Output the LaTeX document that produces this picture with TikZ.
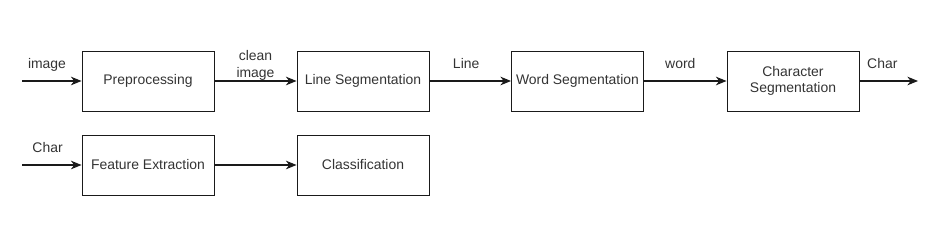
\documentclass[tikz,border=0pt]{standalone}
\usepackage{fontspec}
\setmainfont{Liberation Sans}
\usepackage{tikz}
\usetikzlibrary{arrows.meta}
\definecolor{ink}{HTML}{1A1A1A}
\definecolor{labelgray}{HTML}{333333}

\begin{document}
\begin{tikzpicture}[
  x=0.3mm,y=0.3mm,
  font=\fontsize{11.9}{13.5}\selectfont,
  stage/.style={draw=ink,line width=.8pt,minimum width=3.96cm,
                minimum height=1.8cm,align=center,text=labelgray,inner sep=1pt},
  flow/.style={-{Stealth[length=3.2mm,width=2.6mm,inset=1mm]},line width=1pt,draw=ink},
  tag/.style={anchor=base,yshift=3.6mm,align=center,text=labelgray,inner sep=0pt,
              font=\fontsize{11.9}{14.5}\selectfont}
]
\useasboundingbox (0,0) rectangle (933,234);

% upper row
\node[stage] (pre) at (148,153) {Preprocessing};
\node[stage] (lineseg) at (363,153) {Line Segmentation};
\node[stage] (wordseg) at (577.5,153) {Word Segmentation};
\node[stage] (charseg) at (793,153) {Character\\Segmentation};
\coordinate (imgin) at (22,153);
\coordinate (charout) at (918,153);

\draw[flow] (imgin) -- node[tag,pos=.42] {image} (pre);
\draw[flow] (pre) -- node[tag,yshift=-2.5mm] {clean\\image} (lineseg);
\draw[flow] (lineseg) -- node[tag,pos=.45] {Line} (wordseg);
\draw[flow] (wordseg) -- node[tag,pos=.44] {word} (charseg);
\draw[flow] (charseg) -- node[tag,pos=.39] {Char} (charout);

% lower row
\node[stage] (feat) at (148,69) {Feature Extraction};
\node[stage] (cls) at (363,69) {Classification};
\coordinate (charin) at (22,69);

\draw[flow] (charin) -- node[tag,pos=.43] {Char} (feat);
\draw[flow] (feat) -- (cls);
\end{tikzpicture}
\end{document}
